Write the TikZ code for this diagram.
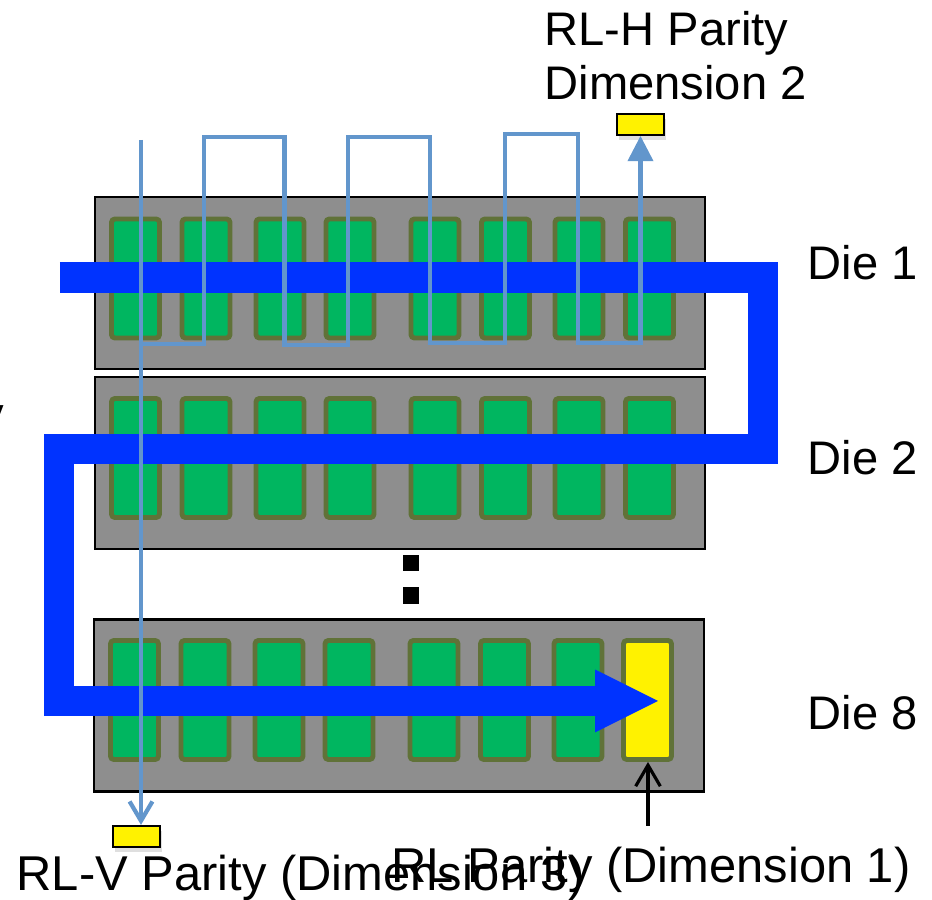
\documentclass[tikz,border=0pt]{standalone}
\usepackage{fontspec}
\setmainfont{Liberation Sans}
\usetikzlibrary{arrows.meta}
\usetikzlibrary{shadows}
\definecolor{diegray}{RGB}{142,142,142}
\definecolor{chipgreen}{RGB}{0,182,96}
\definecolor{chipolive}{RGB}{96,114,56}
\definecolor{flowblue}{RGB}{0,51,255}
\definecolor{linkblue}{RGB}{98,150,204}

\begin{document}
\begin{tikzpicture}[x=0.01cm,y=-0.01cm,
    die/.style={draw=black,line width=0.6pt,fill=diegray,minimum width=6.1cm,minimum height=1.72cm,inner sep=0pt},
    chip/.style={draw=chipolive,line width=1.4pt,fill=chipgreen,rounded corners=1pt,minimum width=0.48cm,minimum height=1.19cm,inner sep=0pt},
    parbox/.style={draw=black,line width=0.6pt,fill=yellow,minimum width=0.47cm,minimum height=0.21cm,inner sep=0pt,drop shadow={opacity=0.25,shadow xshift=0.5pt,shadow yshift=-1.5pt}},
    flow/.style={draw=flowblue,line width=8.8pt,line join=miter},
    link/.style={draw=linkblue,line width=1.2pt},
    lbl/.style={font=\fontsize{13.4}{16}\selectfont,inner sep=0pt,anchor=base west},
    biglbl/.style={lbl,font=\fontsize{13.9}{16}\selectfont}]

      \useasboundingbox (0,0) rectangle (932,900);

      % dies
      \node[die] (die1) at (400,283) {};
      \node[die] (die2) at (400,463) {};
      \node[die] (die8) at (399,705.5) {};

      % chips
      \foreach \x [count=\i] in {135.5,206,280,350,435,505.5,579} {
        \node[chip] (chipa\i) at (\x,278.5) {};
        \node[chip] (chipb\i) at (\x,458) {};
        \node[chip] (chiph\i) at (\x-1,700) {};
      }
      \node[chip] (chipa8) at (649.5,278.5) {};
      \node[chip] (chipb8) at (649.5,458) {};
      \node[chip,fill=yellow] (par) at (647.5,700) {};

      \node[fill=black,minimum size=0.16cm,inner sep=0pt] (dot1) at (411,563) {};
      \node[fill=black,minimum size=0.16cm,inner sep=0pt] (dot2) at (411,595.5) {};

      % RL parity flow
      \draw[flow,-{Triangle[length=17.9pt,width=17.9pt,line width=0pt]}]
      (60,277.5) -- (763,277.5) -- (763,449) -- (59,449) -- (59,701) -- (658,701);

      % parity boxes
      \node[parbox] (hpar) at (640.5,124.5) {};
      \node[parbox] (vpar) at (136.5,836.5) {};

      % RL-H
      \draw[link,-{Triangle[length=7.1pt,width=7.4pt,line width=0pt]}]
      (141,344) -- (204,344) -- (204,137) -- (284.5,137) -- (284.5,345) -- (348,345)
      -- (348,137) -- (430,137) -- (430,343) -- (505,343) -- (505,134) -- (578,134)
      -- (578,343) -- (640.5,343) -- (hpar.south);

      % RL-V
      \coordinate (vtop) at (141,140);
      \draw[link,-{Straight Barb[length=5.5pt,width=6.5pt]}] (vtop) -- (vtop |- vpar.north);

      \coordinate (ptail) at (648,826);
      \draw[line width=0.9pt,-{Straight Barb[length=6pt,width=7pt]}] (ptail) -- (ptail |- par.south);

      \node[lbl] (hlbla) at (544,45) {RL-H Parity};
      \node[lbl] (hlblb) at (544,100) {Dimension 2};
      \node[lbl] (lbla) at (807,280) {Die 1};
      \node[lbl] (lblb) at (807,475) {Die 2};
      \node[lbl] (lblh) at (807,730) {Die 8};
      \node[biglbl] (vlbl) at (16,891) {RL-V Parity (Dimension 3)};
      \node[biglbl] (plbl) at (391,883) {RL Parity (Dimension 1)};
      \node[lbl] (cut) at (-20,431) {y};

\end{tikzpicture}
\end{document}
